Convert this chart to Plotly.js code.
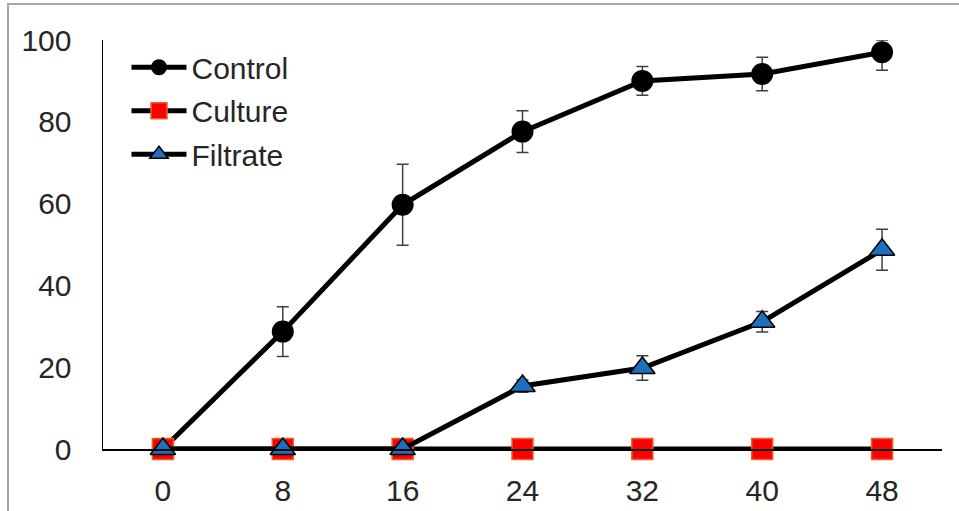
<!DOCTYPE html>
<html>
<head>
<meta charset="utf-8">
<script src="https://cdn.plot.ly/plotly-3.0.1.min.js"></script>
<style>
  html, body { margin: 0; padding: 0; background: #fff; overflow: hidden; }
  #chart { width: 959px; height: 511px; }
  #frame { position: absolute; left: 7px; top: 3px; width: 1200px; height: 900px;
           border-left: 2px solid #a6a6a6; border-top: 2px solid #a6a6a6; pointer-events: none; }
</style>
</head>
<body>
<div id="chart"></div>
<div id="frame"></div>
<script>
const hours = [0, 8, 16, 24, 32, 40, 48];
const controlVals = [0, 28.7, 59.7, 77.6, 90.0, 91.7, 97.0];
const controlErrUp   = [0, 6.1, 9.9, 5.1, 3.5, 4.1, 3.0];
const controlErrDown = [0, 6.1, 9.9, 5.1, 3.5, 4.1, 4.4];
const cultureVals = [0, 0, 0, 0, 0, 0, 0];
const filtrateVals = [0, 0, 0, 15.4, 19.8, 31.1, 48.7];
const filtrateErr  = [0, 0, 0, 1.5, 3.0, 2.5, 5.0];
const yTicks = [0, 20, 40, 60, 80, 100];

const errStyle = { type: 'data', visible: true, color: '#404040', thickness: 1.5, width: 6 };

const traces = [
  {
    x: hours, y: controlVals, name: 'Control', type: 'scatter', mode: 'lines+markers',
    legendgroup: 'a', cliponaxis: false,
    line: { color: '#000000', width: 5 },
    marker: { symbol: 'circle', size: 22, color: '#000000' },
    error_y: Object.assign({ symmetric: false, array: controlErrUp, arrayminus: controlErrDown }, errStyle)
  },
  {
    x: hours, y: cultureVals, name: 'Culture', type: 'scatter', mode: 'lines+markers',
    legendgroup: 'b', cliponaxis: false,
    line: { color: '#000000', width: 5 },
    marker: { symbol: 'square', size: 21, color: '#ff0000', line: { color: '#e8602c', width: 1.5 } }
  },
  {
    x: hours, y: filtrateVals, name: 'Filtrate', type: 'scatter', mode: 'lines+markers',
    legendgroup: 'c', cliponaxis: false,
    line: { color: '#000000', width: 5 },
    marker: { symbol: 'triangle-up', size: 22, color: '#1f6fbf', line: { color: '#000000', width: 1.5 } },
    error_y: Object.assign({ array: filtrateErr }, errStyle)
  }
];

const layout = {
  width: 959, height: 511,
  margin: { l: 103, r: 17, t: 40, b: 62 },
  paper_bgcolor: '#ffffff', plot_bgcolor: '#ffffff',
  font: { family: 'Liberation Sans, Arial, sans-serif', size: 30, color: '#262626' },
  showlegend: true,
  legend: {
    x: 0.028, y: 0.997, xanchor: 'left', yanchor: 'top',
    bgcolor: 'rgba(0,0,0,0)', font: { size: 30, color: '#262626' },
    traceorder: 'grouped', tracegroupgap: 1.5, itemwidth: 55
  },
  xaxis: {
    range: [-4, 52], tickvals: hours, ticktext: hours.map(String),
    showgrid: false, zeroline: false, showline: true, linecolor: '#000000', linewidth: 1.5,
    ticks: '', ticklabelstandoff: 14, fixedrange: true
  },
  yaxis: {
    range: [0, 100], tickvals: yTicks, ticktext: yTicks.map(String),
    showgrid: false, zeroline: false, showline: true, linecolor: '#000000', linewidth: 1.5,
    ticks: '', ticklabelstandoff: 24, fixedrange: true
  }
};

Plotly.newPlot('chart', traces, layout, { displayModeBar: false, staticPlot: true });
</script>
</body>
</html>
